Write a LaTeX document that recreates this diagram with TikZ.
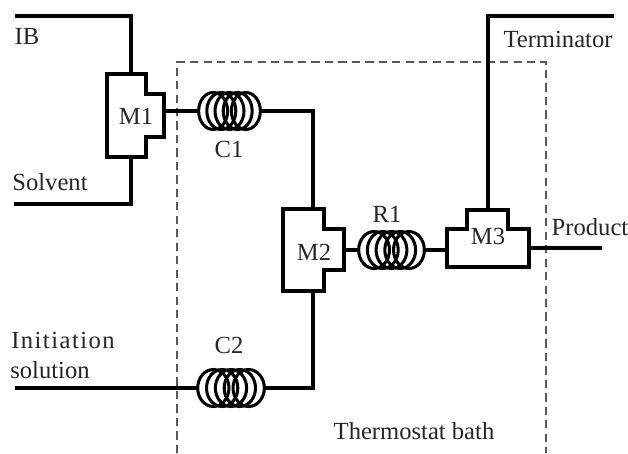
\documentclass[tikz,border=0pt]{standalone}
\usepackage{fontspec}
\setmainfont{Liberation Serif}
\usetikzlibrary{positioning}
\tikzset{
    pipe/.style={line width=2.8pt, line join=miter},
    mixbox/.style={inner sep=0pt, font=\fontsize{21}{24}\selectfont},
    coilbox/.style={inner sep=0pt, minimum height=34pt},
    coilring/.style={line width=2.6pt},
    label/.style={inner sep=0pt, font=\fontsize{21}{24}\selectfont, text=black!85},
    bath/.style={line width=1pt, black!65, dash pattern=on 7pt off 4.5pt}
}
\newcommand{\coil}[4]{% name, x, y, width in px
    \node[coilbox, minimum width=#4*0.85pt] (#1) at (#2,#3) {};
    \foreach \k in {-2,-1,0,1,2}
        \draw[coilring] (#2+\k*#4*0.13,#3) ellipse [x radius=#4*0.23, y radius=18.5];
}
\begin{document}
\begin{tikzpicture}[x=0.3mm, y=-0.3mm]
    \useasboundingbox (0,0) rectangle (628,453);
    \fill[white] (0,0) rectangle (628,453);

    % Thermostat bath
    \draw[bath] (177,453) -- (177,62) -- (546,62) -- (546,453);

    % Coils
    \coil{C1coil}{229.5}{111}{63}
    \coil{C2coil}{231}{388}{68}
    \coil{R1coil}{391.5}{250}{67}

    % Mixers
    \node[mixbox, minimum width=57*0.85pt, minimum height=83*0.85pt] (M1) at (135.5,115.5) {};
    \node[mixbox, minimum width=61*0.85pt, minimum height=82*0.85pt] (M2) at (313.5,250) {};
    \node[mixbox, minimum width=82*0.85pt, minimum height=57*0.85pt] (M3) at (488,238.5) {};
    \draw[pipe] (107,74) -- (146,74) -- (146,94) -- (164,94) -- (164,137) -- (146,137) -- (146,157) -- (107,157) -- cycle;
    \draw[pipe] (283,209) -- (324,209) -- (324,229) -- (344,229) -- (344,270) -- (324,270) -- (324,291) -- (283,291) -- cycle;
    \draw[pipe] (447,229) -- (467,229) -- (467,210) -- (508,210) -- (508,229) -- (529,229) -- (529,267) -- (447,267) -- cycle;
    \node[label] at (136,116) {M1};
    \node[label] at (314,252) {M2};
    \node[label] at (488,236) {M3};

    % Free ends
    \coordinate (ibstart) at (15,16);
    \coordinate (solventstart) at (14,204);
    \coordinate (initstart) at (15,388);
    \coordinate (termstart) at (614,16);
    \coordinate (productend) at (602,248);

    % Feed lines
    \draw[pipe] (ibstart) -| (131,74);
    \draw[pipe] (solventstart) -| (131,157);
    \draw[pipe] (M1.east |- C1coil.west) -- (C1coil.west);
    \draw[pipe] (C1coil.east) -| (313,209);
    \draw[pipe] (initstart) -- (C2coil.west);
    \draw[pipe] (C2coil.east) -| (313,291);
    \draw[pipe] (M2.east) -- (R1coil.west);
    \draw[pipe] (R1coil.east) -- (M3.west |- R1coil.east);
    \draw[pipe] (termstart) -| (M3.north);
    \draw[pipe] (529,248) -- (productend);

    % Labels
    \node[label] (iblabel) at (27,36) {IB};
    \node[label] (solventlabel) at (50,182) {Solvent};
    \node[label] (c1label) at (229,149) {C1};
    \node[label] (c2label) at (229,345) {C2};
    \node[label] (r1label) at (387,214) {R1};
    \node[label] (termlabel) at (558,39) {Terminator};
    \node[label] (productlabel) at (590,227) {Product};
    \node[label, font=\fontsize{21}{24}\selectfont\addfontfeatures{LetterSpace=6}] (initlabel) at (63,340) {Initiation};
    \node[label] (sollabel) at (50,370) {solution};
    \node[label] (bathlabel) at (414,431) {Thermostat bath};
\end{tikzpicture}
\end{document}
